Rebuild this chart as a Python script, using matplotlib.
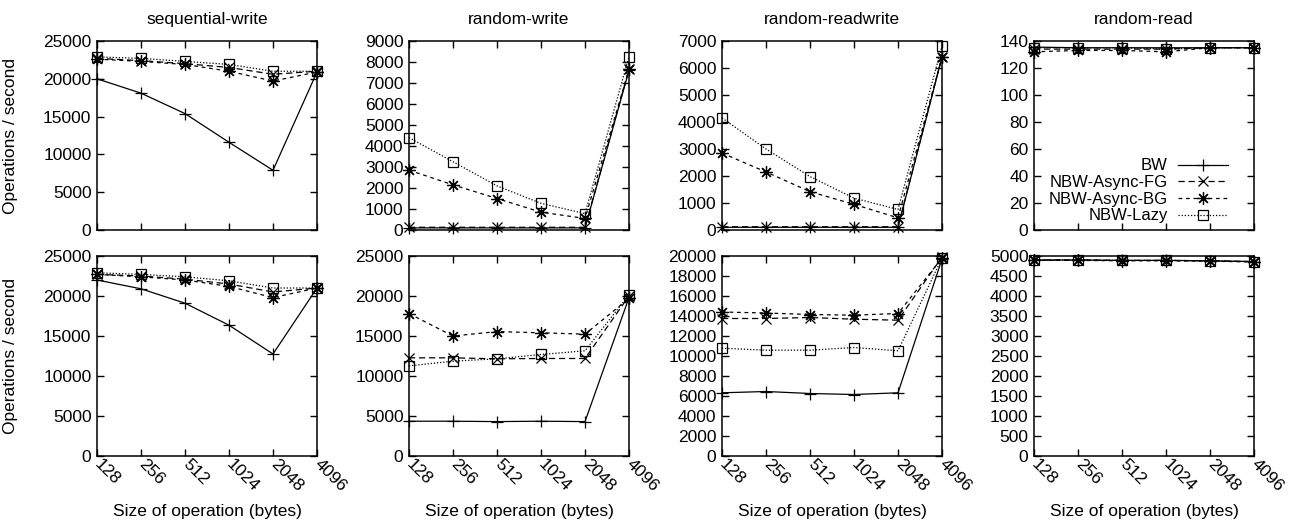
import numpy as np
import matplotlib
matplotlib.use("Agg")
import matplotlib.pyplot as plt

plt.rcParams['font.family'] = ['Liberation Sans', 'DejaVu Sans']
plt.rcParams['font.size'] = 12.5

sizes = ["128", "256", "512", "1024", "2048", "4096"]
series = ["BW", "NBW-Async-FG", "NBW-Async-BG", "NBW-Lazy"]
titles = ["sequential-write", "random-write", "random-readwrite", "random-read"]

# top row
seqw_top = [[20000, 18100, 15400, 11600, 7900, 20900],
            [22700, 22400, 22000, 21500, 20600, 21000],
            [22600, 22300, 21900, 21000, 19700, 20900],
            [22900, 22700, 22300, 21900, 21000, 21000]]
randw_top = [[100, 100, 100, 100, 100, 7600],
             [130, 130, 130, 130, 130, 7650],
             [2850, 2150, 1500, 850, 550, 7650],
             [4400, 3250, 2100, 1270, 780, 8250]]
randrw_top = [[100, 100, 100, 100, 100, 6400],
              [120, 120, 120, 120, 120, 6420],
              [2850, 2150, 1420, 950, 450, 6400],
              [4150, 3000, 1980, 1180, 760, 6820]]
randr_top = [[135.5, 135, 135, 135, 135, 135],
             [134, 134, 134, 134, 135, 135],
             [132, 133, 133, 132, 135, 135],
             [135, 135, 135, 134, 135, 135]]

# bottom row
seqw_bot = [[22000, 20900, 19100, 16350, 12750, 21000],
            [22700, 22500, 22100, 21500, 20500, 21000],
            [22700, 22400, 22000, 21200, 19800, 21000],
            [22900, 22700, 22400, 21900, 21000, 21000]]
randw_bot = [[4350, 4350, 4300, 4350, 4300, 19800],
             [12270, 12270, 12150, 12190, 12190, 20000],
             [17800, 15000, 15550, 15400, 15230, 19700],
             [11270, 11850, 12150, 12690, 13150, 20150]]
randrw_bot = [[6320, 6450, 6250, 6150, 6320, 19700],
              [13750, 13750, 13850, 13680, 13580, 19900],
              [14400, 14300, 14150, 14080, 14250, 19800],
              [10780, 10580, 10580, 10850, 10520, 19800]]
randr_bot = [[4900, 4900, 4890, 4890, 4880, 4860],
             [4900, 4900, 4890, 4890, 4880, 4860],
             [4890, 4890, 4880, 4880, 4870, 4850],
             [4900, 4900, 4890, 4890, 4880, 4860]]

top_data = [seqw_top, randw_top, randrw_top, randr_top]
bot_data = [seqw_bot, randw_bot, randrw_bot, randr_bot]
top_ylims = [(25000, 5000), (9000, 1000), (7000, 1000), (140, 20)]
bot_ylims = [(25000, 5000), (25000, 5000), (20000, 2000), (5000, 500)]

styles = [dict(ls='-', marker='+', ms=9),
          dict(ls=(0, (5, 3)), marker='x', ms=7),
          dict(ls=(0, (3, 3)), marker=(8, 2, 0), ms=9),
          dict(ls=(0, (1, 1.5)), marker='s', ms=7, mfc='none')]

fig = plt.figure(figsize=(12.89, 5.25), dpi=100)
W, H = 1289.0, 525.0
lefts = [97, 409, 722, 1034]
aw = 220
rows = [(41, 230), (256, 456)]

x = np.arange(len(sizes))
for r, (data, ylims) in enumerate([(top_data, top_ylims), (bot_data, bot_ylims)]):
    t, b = rows[r]
    for c in range(4):
        ax = fig.add_axes([lefts[c] / W, 1 - b / H, aw / W, (b - t) / H])
        for s, st in enumerate(styles):
            ax.plot(x, data[c][s], color='black', lw=0.9, mew=0.9,
                    clip_on=False, label=series[s], **st)
        ymax, step = ylims[c]
        ax.set_ylim(0, ymax)
        ax.set_yticks(np.arange(0, ymax + step / 2, step))
        ax.set_xlim(0, 5)
        ax.set_xticks(x)
        ax.tick_params(direction='in', top=True, right=True, length=5,
                       width=1, labelsize=12.5, pad=4)
        for sp in ax.spines.values():
            sp.set_linewidth(1.1)
        if r == 0:
            ax.set_xticklabels([])
            ax.set_title(titles[c], fontsize=12.5, pad=12)
        else:
            ax.set_xticklabels(sizes, rotation=-45, ha='left', va='center',
                               rotation_mode='anchor')
            ax.set_xlabel("Size of operation (bytes)", fontsize=12.5)
            ax.xaxis.set_label_coords(0.5, -0.24)
        if c == 0:
            ax.set_ylabel("Operations / second", fontsize=12.5)
            ax.yaxis.set_label_coords(-0.36, 0.5)
        if r == 0 and c == 3:
            ax.legend(loc='lower right', bbox_to_anchor=(0.91, 0.0),
                      frameon=False, markerfirst=False, handlelength=3.0,
                      handletextpad=0.6, labelspacing=0.1, borderpad=0.2,
                      borderaxespad=0.2, fontsize=12)

fig.savefig("out.png", dpi=100)
